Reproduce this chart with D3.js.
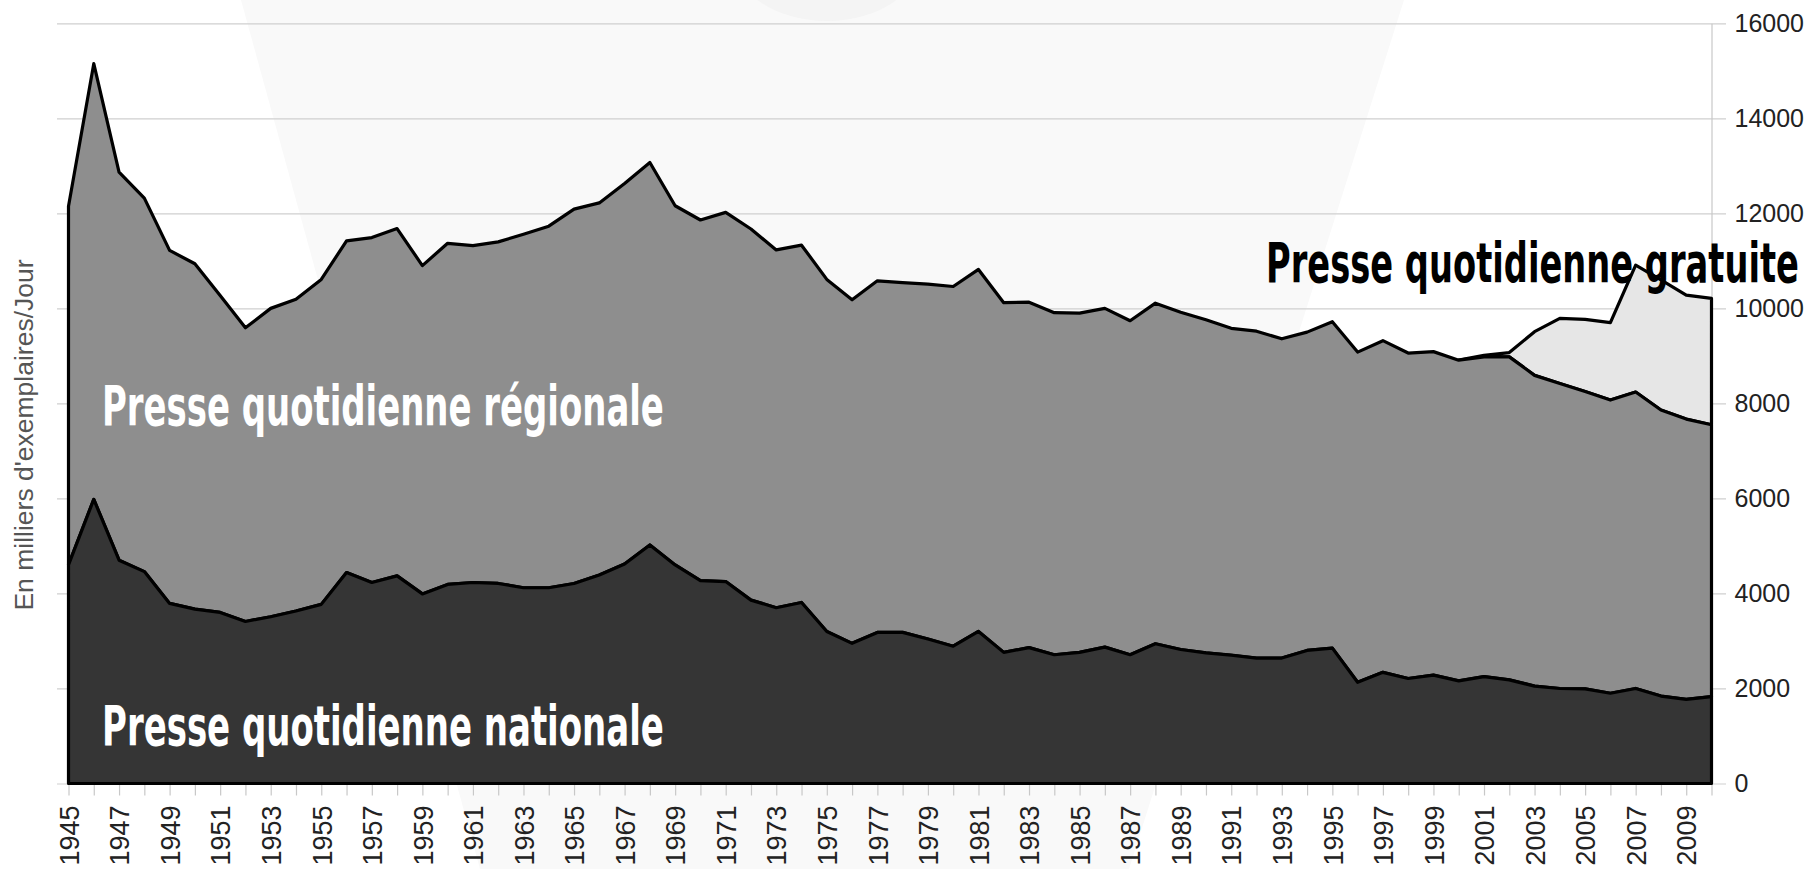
<!DOCTYPE html>
<html>
<head>
<meta charset="utf-8">
<script src="https://cdn.jsdelivr.net/npm/d3@7"></script>
<style>
  html, body { margin: 0; padding: 0; background: #ffffff; }
  svg { display: block; }
</style>
</head>
<body>
<svg id="chart" width="1814" height="869"></svg>
<script>
// ---- Data (milliers d'exemplaires / jour) ----
const years = [1945,1946,1947,1948,1949,1950,1951,1952,1953,1954,1955,1956,1957,1958,1959,
  1960,1961,1962,1963,1964,1965,1966,1967,1968,1969,1970,1971,1972,1973,1974,1975,1976,1977,
  1978,1979,1980,1981,1982,1983,1984,1985,1986,1987,1988,1989,1990,1991,1992,1993,1994,1995,
  1996,1997,1998,1999,2000,2001,2002,2003,2004,2005,2006,2007,2008,2009,2010];

const nationale = [4600,5980,4700,4460,3790,3670,3600,3410,3510,3630,3770,4440,4230,4370,3990,
  4190,4230,4210,4120,4120,4210,4390,4620,5020,4600,4270,4250,3860,3700,3810,3200,2950,3180,
  3180,3040,2890,3200,2760,2860,2710,2760,2870,2710,2940,2820,2750,2700,2640,2640,2800,2850,
  2130,2340,2210,2280,2160,2250,2180,2050,2000,1990,1900,2000,1840,1770,1830];

const regionale = [7550,9170,8170,7860,7430,7270,6670,6180,6490,6560,6840,6980,7260,7310,6910,
  7180,7090,7190,7440,7610,7880,7830,8010,8050,7560,7590,7770,7810,7530,7520,7410,7230,7400,
  7360,7470,7570,7620,7360,7270,7200,7140,7130,7030,7170,7100,7010,6880,6880,6720,6700,6870,
  6950,6980,6850,6810,6750,6730,6800,6540,6420,6260,6170,6240,6020,5900,5720];

const gratuite = [0,0,0,0,0,0,0,0,0,0,0,0,0,0,0,
  0,0,0,0,0,0,0,0,0,0,0,0,0,0,0,0,0,0,
  0,0,0,0,0,0,0,0,0,0,0,0,0,0,0,0,0,0,
  0,0,0,0,0,30,90,920,1370,1520,1630,2670,2740,2610,2660];

const yTicks = [0,2000,4000,6000,8000,10000,12000,14000,16000];
const xLabelYears = [1945,1947,1949,1951,1953,1955,1957,1959,1961,1963,1965,1967,1969,1971,1973,
  1975,1977,1979,1981,1983,1985,1987,1989,1991,1993,1995,1997,1999,2001,2003,2005,2007,2009];

const seriesKeys = ["nationale", "regionale", "gratuite"];
const seriesLabels = ["Presse quotidienne nationale", "Presse quotidienne régionale", "Presse quotidienne gratuite"];
const yTitle = "En milliers d'exemplaires/Jour";

(function () {
  // ---- Build table ----
  const table = years.map((yr, i) => ({
    year: yr, nationale: nationale[i], regionale: regionale[i], gratuite: gratuite[i]
  }));

  // ---- Layout ----
  const pLeft = 68.5, pRight = 1711.5, pTop = 23.3, pBottom = 783.5;

  const svg = d3.select("#chart");

  const x = d3.scaleLinear().domain([1945, 2010]).range([pLeft, pRight]);
  const y = d3.scaleLinear().domain([0, 16000]).range([pBottom, pTop]);

  // faint watermark shapes in background
  svg.append("path")
    .attr("d", "M241,0 L1404,0 L1129,869 L480,869 Z")
    .attr("fill", "#f9f9f9");
  svg.append("ellipse")
    .attr("cx", 827).attr("cy", -45).attr("rx", 95).attr("ry", 66)
    .attr("fill", "#f4f4f4");

  // gridlines
  const grid = svg.append("g")
    .attr("transform", "translate(57,0)")
    .call(d3.axisRight(y).tickValues(yTicks).tickSize(1726 - 57).tickFormat(""));
  grid.select(".domain").remove();
  grid.selectAll("line").attr("stroke", "#cfcfcf").attr("stroke-width", 1.2);

  // right axis line + labels
  const yAxis = svg.append("g")
    .attr("transform", `translate(${pRight},0)`)
    .call(d3.axisRight(y).tickValues(yTicks).tickSize(0).tickPadding(23).tickFormat(d3.format("d")));
  yAxis.select(".domain").attr("stroke", "#c8c8c8").attr("stroke-width", 1.2);
  yAxis.selectAll("text")
    .attr("font-family", "'Liberation Sans', Arial, sans-serif")
    .attr("font-size", 25)
    .attr("fill", "#222");

  // x axis ticks (every year)
  const xTicksG = svg.append("g")
    .attr("transform", `translate(0,${pBottom})`)
    .call(d3.axisBottom(x).tickValues(years).tickSize(12).tickFormat(""));
  xTicksG.select(".domain").remove();
  xTicksG.selectAll("line").attr("stroke", "#c8c8c8").attr("stroke-width", 1.2);

  // x axis labels (rotated)
  const xLab = svg.append("g")
    .attr("transform", `translate(0,${pBottom})`)
    .call(d3.axisBottom(x).tickValues(xLabelYears).tickSize(0).tickFormat(d3.format("d")));
  xLab.select(".domain").remove();
  xLab.selectAll("text")
    .attr("font-family", "'Liberation Sans', Arial, sans-serif")
    .attr("font-size", 27)
    .attr("fill", "#222")
    .attr("text-anchor", "end")
    .attr("transform", "rotate(-90)")
    .attr("x", -22)
    .attr("y", 0)
    .attr("dy", "0.36em");

  // ---- stacked areas ----
  const layers = d3.stack().keys(seriesKeys)(table);
  const fills = { nationale: "#353535", regionale: "#8e8e8e", gratuite: "#e6e6e6" };
  const firstFree = gratuite.findIndex(v => v > 0) - 1;

  const plotG = svg.append("g");
  [...layers].reverse().forEach(layer => {
    const gen = d3.area()
      .x(d => x(d.data.year))
      .y0(d => y(d[0]))
      .y1(d => y(d[1]))
      .defined((d, i) => layer.key !== "gratuite" || i >= firstFree);
    plotG.append("path")
      .datum(layer)
      .attr("d", gen)
      .attr("fill", fills[layer.key])
      .attr("stroke", "#000")
      .attr("stroke-width", 3.2)
      .attr("stroke-linejoin", "round");
  });

  // ---- series labels (horizontally condensed to the reference widths) ----
  const labelFont = "'Liberation Sans Narrow', 'DejaVu Sans Condensed', Roboto, 'Liberation Sans', sans-serif";
  const labelSpecs = [
    { text: seriesLabels[1], x: 102, y: 425, len: 562, color: "#ffffff" },
    { text: seriesLabels[0], x: 102, y: 745, len: 562, color: "#ffffff" },
    { text: seriesLabels[2], x: 1266, y: 282, len: 533, color: "#000000" }
  ];
  labelSpecs.forEach(s => {
    const g = svg.append("g");
    const t = g.append("text")
      .attr("x", 0).attr("y", 0)
      .attr("font-family", labelFont)
      .attr("font-weight", 700)
      .attr("font-size", 55)
      .attr("fill", s.color)
      .text(s.text);
    const natural = t.node().getComputedTextLength();
    const sx = s.len / natural;
    g.attr("transform", `translate(${s.x},${s.y}) scale(${sx},1)`);
  });

  // ---- y axis title ----
  svg.append("text")
    .attr("transform", "translate(33,435) rotate(-90)")
    .attr("text-anchor", "middle")
    .attr("font-family", "'Liberation Sans', Arial, sans-serif")
    .attr("font-size", 26.5)
    .attr("fill", "#555")
    .text(yTitle);
})();
</script>
</body>
</html>
